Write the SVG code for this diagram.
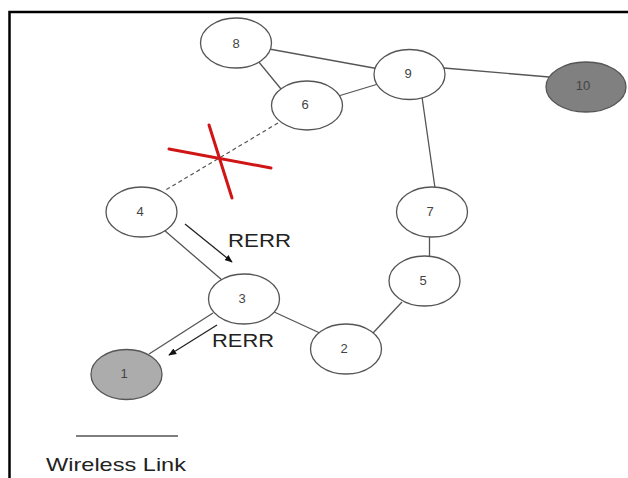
<svg xmlns="http://www.w3.org/2000/svg" width="628" height="478" viewBox="0 0 628 478">
<defs>
<style>
.edge{stroke:#555;stroke-width:1.3;fill:none}
.dash{stroke:#555;stroke-width:1.2;stroke-dasharray:4 3;fill:none}
.arrow{stroke:#222;stroke-width:1.3;fill:none;marker-end:url(#ah)}
.node ellipse{fill:#fff;stroke:#555;stroke-width:1.3}
.node.dark ellipse{fill:#808080}
.node.light ellipse{fill:#acacac}
.node text{font-family:"Liberation Sans",Arial,sans-serif;font-size:13px;fill:#444;text-anchor:middle;dominant-baseline:central}
.lbl{font-family:"Liberation Sans",Arial,sans-serif;font-size:19px;fill:#222}
.x{stroke:#d01515;stroke-width:3;stroke-linecap:round}
</style>
<marker id="ah" viewBox="0 0 10 10" refX="9" refY="5" markerWidth="8" markerHeight="8" markerUnits="userSpaceOnUse" orient="auto">
<path d="M0,1 L10,5 L0,9 z" fill="#111"/>
</marker>
</defs>
<rect width="628" height="478" fill="#fff"/>
<path d="M9.5,478 V12 H628" fill="none" stroke="#000" stroke-width="2.5"/>
<g id="connectors">
<line class="edge" x1="236" y1="43" x2="409.5" y2="74.5"/>
<line class="edge" x1="258" y1="61" x2="281" y2="89"/>
<line class="edge" x1="307" y1="105.5" x2="409.5" y2="74.5"/>
<line class="edge" x1="444" y1="68" x2="549" y2="77"/>
<line class="edge" x1="422" y1="97" x2="435" y2="188"/>
<line class="edge" x1="429.5" y1="236" x2="429.5" y2="257"/>
<line class="edge" x1="402" y1="302" x2="373" y2="333"/>
<line class="edge" x1="272" y1="311" x2="322" y2="334"/>
<line class="edge" x1="164" y1="230" x2="222" y2="280"/>
<line class="edge" x1="213" y1="313" x2="149" y2="354"/>
<line class="dash" x1="278" y1="123" x2="164" y2="191"/>
<line class="arrow" x1="185" y1="224" x2="232" y2="262"/>
<line class="arrow" x1="217" y1="325" x2="169" y2="355"/>
<line class="x" x1="169" y1="149" x2="271" y2="168"/>
<line class="x" x1="209" y1="125" x2="232" y2="198"/>
</g>
<g id="n8" class="node"><ellipse cx="236" cy="43" rx="35.5" ry="25"/><text x="236" y="43">8</text></g>
<g id="n9" class="node"><ellipse cx="409.5" cy="74.5" rx="35.5" ry="25"/><text x="408" y="73">9</text></g>
<g id="n10" class="node dark"><ellipse cx="586" cy="87" rx="40" ry="25"/><text x="583" y="85">10</text></g>
<g id="n6" class="node"><ellipse cx="307" cy="105.5" rx="35.5" ry="24.5"/><text x="305" y="104">6</text></g>
<g id="n4" class="node"><ellipse cx="141.5" cy="212" rx="35.5" ry="25"/><text x="140" y="211">4</text></g>
<g id="n7" class="node"><ellipse cx="432" cy="212" rx="35.5" ry="25"/><text x="430" y="211">7</text></g>
<g id="n5" class="node"><ellipse cx="424.5" cy="281" rx="35.5" ry="25"/><text x="423" y="280">5</text></g>
<g id="n3" class="node"><ellipse cx="244" cy="299" rx="35.5" ry="25"/><text x="242" y="298">3</text></g>
<g id="n2" class="node"><ellipse cx="346" cy="349" rx="35.5" ry="25"/><text x="344" y="348">2</text></g>
<g id="n1" class="node light"><ellipse cx="126.5" cy="374.5" rx="35.5" ry="25"/><text x="124" y="373">1</text></g>
<text class="lbl" x="228" y="247" textLength="63" lengthAdjust="spacingAndGlyphs">RERR</text>
<text class="lbl" x="212" y="347" textLength="62" lengthAdjust="spacingAndGlyphs">RERR</text>
<g id="legend">
<line x1="76" y1="436" x2="178" y2="436" stroke="#555" stroke-width="1.5"/>
<text class="lbl" x="46" y="471" textLength="140" lengthAdjust="spacingAndGlyphs">Wireless Link</text>
</g>
</svg>
